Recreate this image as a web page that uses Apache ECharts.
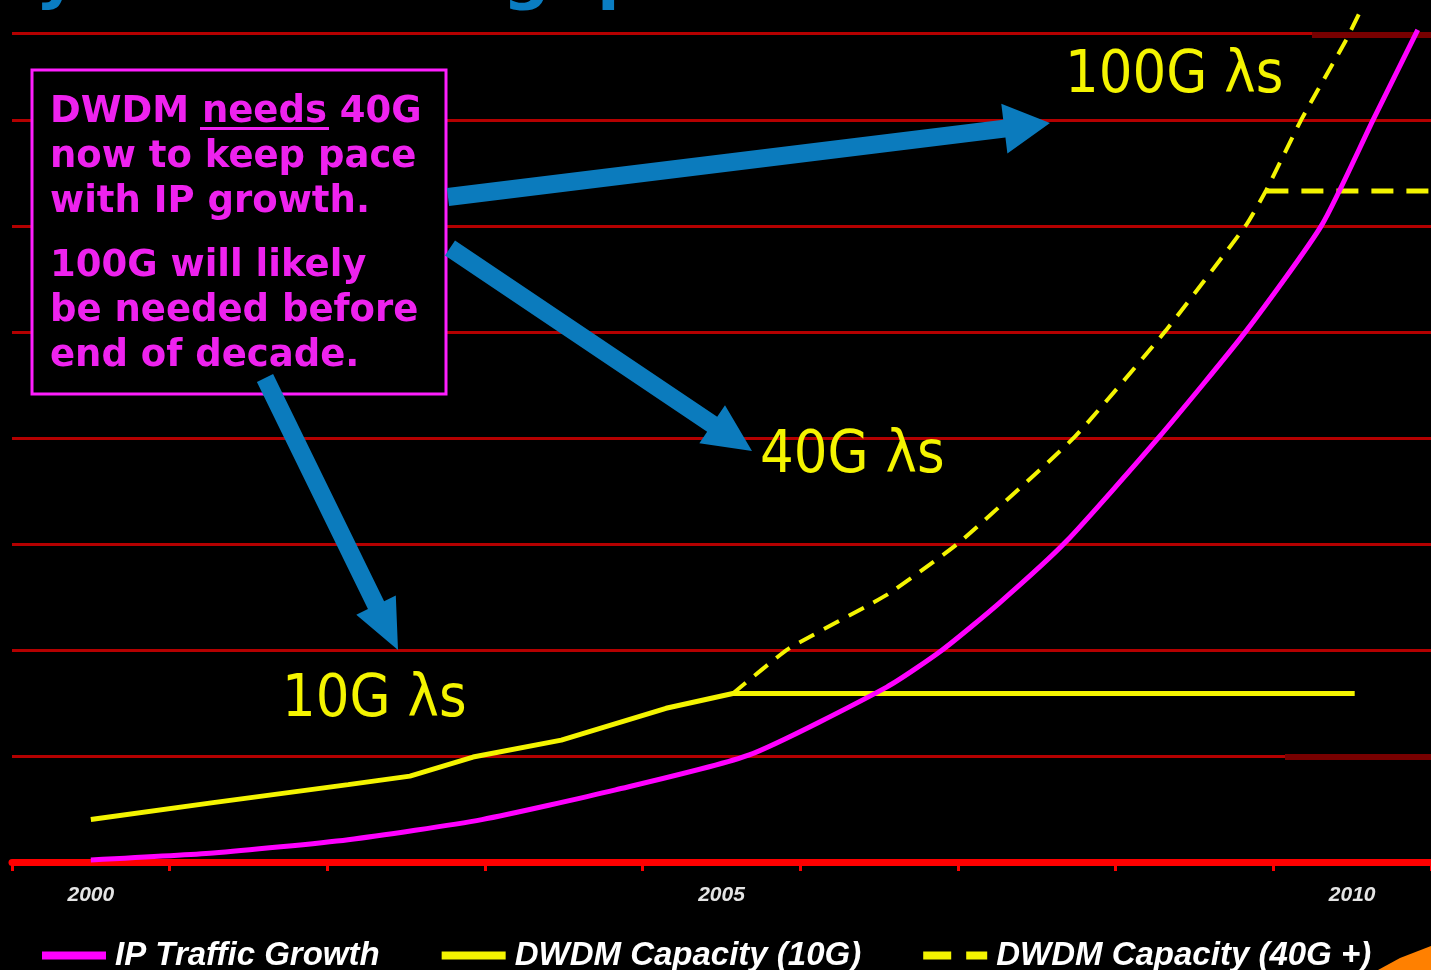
<!DOCTYPE html>
<html>
<head>
<meta charset="utf-8">
<title>System Throughput</title>
<script src="https://cdn.jsdelivr.net/npm/echarts@6/dist/echarts.min.js"></script>
<style>
  html, body { margin: 0; padding: 0; background: #000; }
  #systemThroughput { width: 1431px; height: 970px; }
</style>
</head>
<body>
<div id="systemThroughput"></div>
<script>
// tick labels of the category axis (9 slots, labels every 4th)
const yearLabels = ["2000", "", "", "", "2005", "", "", "", "2010"];

// IP traffic growth (relative units, 1 unit = one grid step)
const ipYears = [2000, 2000.97, 2002.04, 2003.1, 2004.16, 2005.22, 2006.31, 2006.75, 2007.2, 2007.73, 2008.47, 2009.16, 2009.76, 2010.17, 2010.52];
const ipValues = [0.02, 0.085, 0.21, 0.4, 0.68, 1.01, 1.65, 2.0, 2.44, 3.02, 4.01, 5.01, 6.01, 7.01, 7.85];

// DWDM capacity with 10G lambdas
const cap10Years = [2000, 2000.97, 2002.04, 2002.53, 2003.03, 2003.73, 2004.56, 2005.09, 2010.02];
const cap10Values = [0.4, 0.56, 0.73, 0.81, 0.99, 1.15, 1.45, 1.59, 1.59];

// DWDM capacity with 40G / 100G lambdas
const cap40Years = [2005.09, 2005.53, 2006.31, 2006.88, 2007.8, 2008.52, 2009.16, 2009.32, 2009.6, 2009.95, 2010.07];
const cap40Values = [1.59, 2.01, 2.52, 3.01, 4.01, 5.01, 6.01, 6.34, 7.01, 7.75, 8.04];

// 40G plateau
const plateauYears = [2009.32, 2010.62];
const plateauValues = [6.33, 6.33];

const zip = (xs, ys) => xs.map((x, i) => [x, ys[i]]);

// arrow polygon from (x1,y1) to tip (x2,y2)
function arrowPoints(x1, y1, x2, y2, shaftW, headLen, headW) {
  const dx = x2 - x1, dy = y2 - y1;
  const len = Math.sqrt(dx * dx + dy * dy);
  const ux = dx / len, uy = dy / len;
  const px = -uy, py = ux;
  const bx = x2 - ux * headLen, by = y2 - uy * headLen;
  return [
    [x1 + px * shaftW / 2, y1 + py * shaftW / 2],
    [bx + px * shaftW / 2, by + py * shaftW / 2],
    [bx + px * headW / 2, by + py * headW / 2],
    [x2, y2],
    [bx - px * headW / 2, by - py * headW / 2],
    [bx - px * shaftW / 2, by - py * shaftW / 2],
    [x1 - px * shaftW / 2, y1 - py * shaftW / 2],
  ];
}

const arrowColor = "#0b7bbd";
const yellow = "#f4f400";
const magenta = "#ff00ff";

const chart = echarts.init(document.getElementById("systemThroughput"));

const option = {
  backgroundColor: "#000",
  animation: false,
  grid: { left: 12, right: -1, top: 33, bottom: 108 },
  legend: {
    left: 33,
    top: 934,
    itemWidth: 64,
    itemHeight: 14,
    itemGap: 58,
    lineStyle: { width: 8 },
    itemStyle: { opacity: 0 },
    textStyle: {
      color: "#fff",
      fontFamily: "Liberation Sans",
      fontStyle: "italic",
      fontWeight: "bold",
      fontSize: 33,
      padding: [0, 0, 0, 4],
    },
    data: [
      { name: "IP Traffic Growth" },
      { name: "DWDM Capacity (10G)" },
      { name: "DWDM Capacity (40G +)", lineStyle: { type: [28, 15], width: 8 } },
    ],
  },
  xAxis: [
    {
      type: "category",
      data: yearLabels,
      boundaryGap: true,
      axisLine: { lineStyle: { color: "#ff0000", width: 7 } },
      axisTick: { show: true, interval: 0, length: 9, lineStyle: { color: "#ff0000", width: 3 } },
      axisLabel: {
        interval: 0,
        margin: 23,
        color: "#e4e4e4",
        fontFamily: "Liberation Sans",
        fontStyle: "italic",
        fontWeight: "bold",
        fontSize: 21,
      },
      splitLine: { show: false },
    },
    {
      type: "value",
      min: 1999.375,
      max: 2010.625,
      show: false,
      splitLine: { show: false },
    },
  ],
  yAxis: {
    type: "value",
    min: 0,
    max: 7.82,
    interval: 1,
    axisLine: { show: false },
    axisTick: { show: false },
    axisLabel: { show: false },
    splitLine: { lineStyle: { color: "#b40000", width: 3 } },
  },
  series: [
    {
      name: "DWDM Capacity (10G)",
      type: "line",
      xAxisIndex: 1,
      data: zip(cap10Years, cap10Values),
      symbol: "none",
      clip: false,
      z: 4,
      itemStyle: { color: yellow },
      lineStyle: { color: yellow, width: 5 },
    },
    {
      name: "DWDM Capacity (40G +)",
      type: "line",
      xAxisIndex: 1,
      data: zip(cap40Years, cap40Values),
      symbol: "none",
      smooth: 0.15,
      clip: false,
      z: 3,
      itemStyle: { color: yellow },
      lineStyle: { color: yellow, width: 4, type: [17, 11] },
    },
    {
      name: "DWDM Capacity (40G +)",
      type: "line",
      xAxisIndex: 1,
      data: zip(plateauYears, plateauValues),
      symbol: "none",
      clip: false,
      z: 3,
      itemStyle: { color: yellow },
      lineStyle: { color: yellow, width: 5, type: [22, 13] },
    },
    {
      name: "IP Traffic Growth",
      type: "line",
      xAxisIndex: 1,
      data: zip(ipYears, ipValues),
      symbol: "none",
      smooth: 0.2,
      clip: false,
      z: 5,
      itemStyle: { color: magenta },
      lineStyle: { color: magenta, width: 5 },
    },
  ],
  graphic: [
    // cut-off slide title
    {
      type: "text",
      x: -12,
      y: -21,
      z: 20,
      style: {
        text: "System Throughput",
        font: 'bold 66px "DejaVu Sans"',
        fill: "#0a7dc2",
        verticalAlign: "middle",
      },
    },
    // darker overlapping grid pieces on the right
    { type: "rect", z: 1, shape: { x: 1312, y: 32, width: 119, height: 6 }, style: { fill: "#780000" } },
    { type: "rect", z: 1, shape: { x: 1285, y: 754, width: 146, height: 6 }, style: { fill: "#780000" } },
    // note box
    {
      type: "rect",
      z: 20,
      shape: { x: 32, y: 70, width: 414, height: 324 },
      style: { fill: "#000", stroke: "#ff1eff", lineWidth: 3 },
    },
    {
      type: "text",
      x: 50,
      y: 89.5,
      z: 21,
      style: {
        text: "DWDM needs 40G\nnow to keep pace\nwith IP growth.",
        font: 'bold 37px "DejaVu Sans"',
        lineHeight: 45,
        fill: "#ee22ee",
        verticalAlign: "top",
      },
    },
    { type: "rect", z: 21, shape: { x: 200, y: 127, width: 129, height: 3 }, style: { fill: "#ee22ee" } },
    {
      type: "text",
      x: 50,
      y: 243.5,
      z: 21,
      style: {
        text: "100G will likely\nbe needed before\nend of decade.",
        font: 'bold 37px "DejaVu Sans"',
        lineHeight: 45,
        fill: "#ee22ee",
        verticalAlign: "top",
      },
    },
    // arrows
    { type: "polygon", z: 22, shape: { points: arrowPoints(448, 197, 1050, 123, 18, 46, 50) }, style: { fill: arrowColor } },
    { type: "polygon", z: 22, shape: { points: arrowPoints(450, 248, 752, 451, 18, 48, 46) }, style: { fill: arrowColor } },
    { type: "polygon", z: 22, shape: { points: arrowPoints(265, 378, 398, 650, 18, 50, 44) }, style: { fill: arrowColor } },
    // lambda labels
    {
      type: "text", x: 282, y: 701, z: 21,
      style: { text: "10G λs", font: '59px "DejaVu Sans Condensed", "DejaVu Sans"', fill: yellow, verticalAlign: "middle" },
    },
    {
      type: "text", x: 760, y: 457, z: 21,
      style: { text: "40G λs", font: '59px "DejaVu Sans Condensed", "DejaVu Sans"', fill: yellow, verticalAlign: "middle" },
    },
    {
      type: "text", x: 1065, y: 77, z: 21,
      style: { text: "100G λs", font: '59px "DejaVu Sans Condensed", "DejaVu Sans"', fill: yellow, verticalAlign: "middle" },
    },
    // orange slide corner
    {
      type: "polygon",
      z: 21,
      shape: { points: [[1378, 970], [1400, 958], [1431, 946], [1431, 970]] },
      style: { fill: "#ff8000" },
    },
  ],
};

chart.setOption(option);

window.addEventListener("resize", () => {
  chart.resize();
});
</script>
</body>
</html>
